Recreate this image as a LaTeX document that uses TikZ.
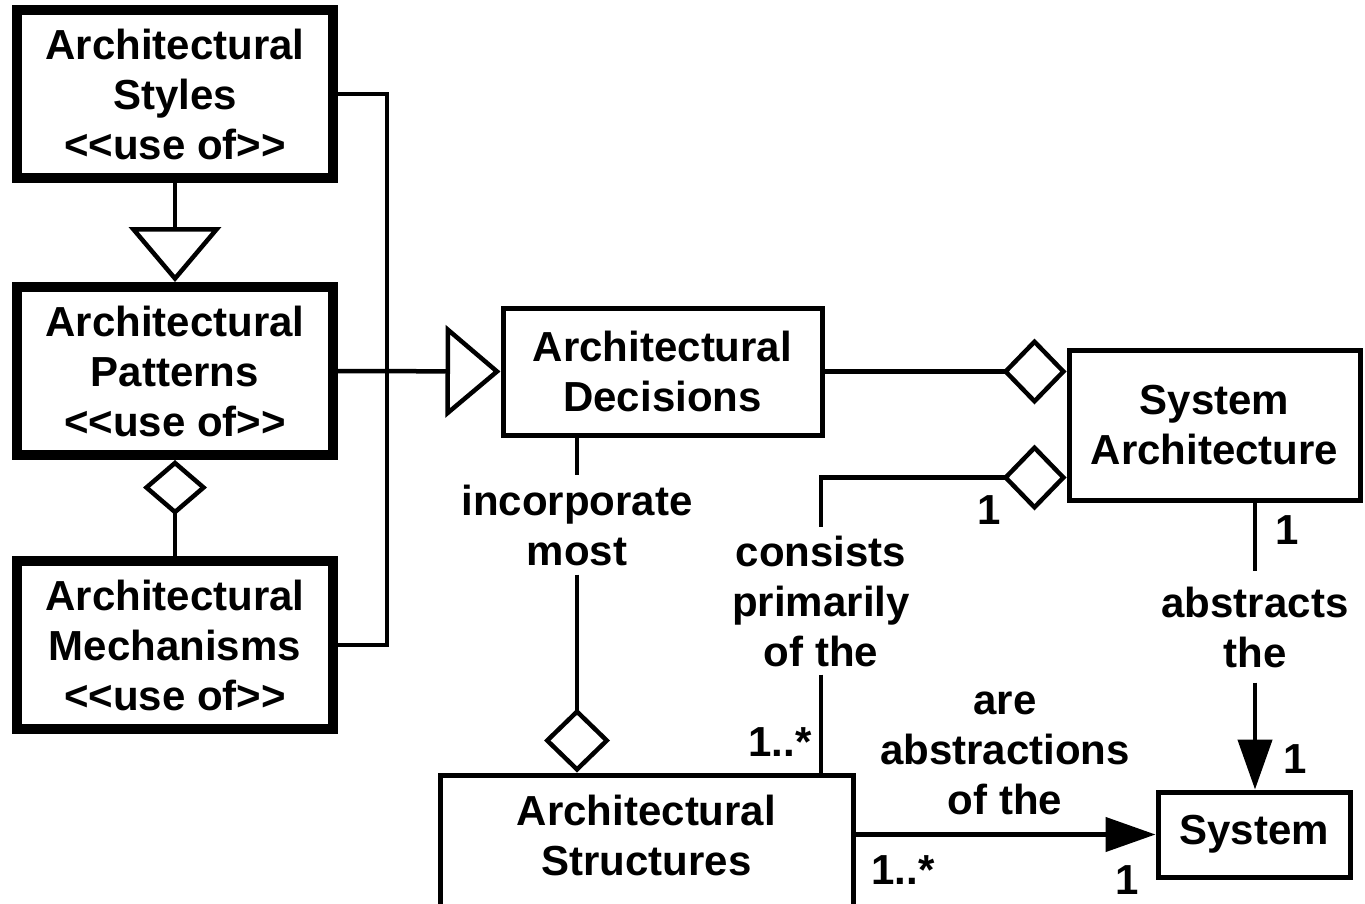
\documentclass[tikz,border=0pt]{standalone}
\usepackage{fontspec}
\setmainfont{Liberation Sans}
\usetikzlibrary{arrows.meta,calc}
% stereotype brackets kept as two separate characters
\newcommand{\stereo}[1]{<\kern0pt<#1>\kern0pt>}

\begin{document}
\begin{tikzpicture}[x=1pt,y=-1pt,
  every node/.style={font=\fontsize{42pt}{50pt}\selectfont\bfseries},
  heavybox/.style={draw, line width=10pt, minimum width=316pt, minimum height=168pt,
                   align=center, inner sep=0pt},
  box/.style={draw, line width=5pt, align=center, inner sep=0pt},
  boxtext/.style={align=center, inner sep=0pt},
  lbl/.style={align=center, inner xsep=2pt},
  mult/.style={inner sep=0pt},
  link/.style={line width=4.5pt},
  gen/.style={-{Triangle[open,length=55pt,width=92pt]}},
  aggstart/.style={{Diamond[open,length=55pt,width=64pt]}-},
  sysagg/.style={{Diamond[open,length=64pt,width=66pt]}-},
  aggend/.style={-{Diamond[open,length=64pt,width=66pt]}},
  nav/.style={-{Triangle[length=50pt,width=34pt]}}]

\useasboundingbox (0,0) rectangle (1365,903);

% classes on the left
\node[heavybox] (styles)     at (175,94)  {Architectural\\Styles\\\stereo{use of}};
\node[heavybox] (patterns)   at (175,371) {Architectural\\Patterns\\\stereo{use of}};
\node[heavybox] (mechanisms) at (175,645) {Architectural\\Mechanisms\\\stereo{use of}};

% central and right classes
\node[box, minimum width=319pt, minimum height=127pt] (decisions) at (662.5,371.5)
  {Architectural\\Decisions};
\node[box, minimum width=291pt, minimum height=150pt] (sysarch) at (1214.5,425)
  {System\\Architecture};
\node[box, minimum width=192pt, minimum height=85pt] (system) at (1254,834.5) {System};
\node[box, minimum width=413pt, minimum height=136pt] (structures) at (646.5,843) {};
\node[boxtext] (structurestext) at (646.5,835) {Architectural\\Structures};

% association labels
\node[lbl, inner ysep=9pt]  (incorp)    at (577,525)  {incorporate\\most};
\node[lbl, inner ysep=8pt]  (consists)  at (821,601)  {consists\\primarily\\of the};
\node[lbl, inner ysep=15pt] (abstracts) at (1255,627) {abstracts\\the};
\node[lbl] (areabs) at (1005,753) {are\\abstractions\\of the};

% multiplicities
\node[mult] (m1)  at (989,510)  {1};
\node[mult] (m2)  at (1287,530) {1};
\node[mult] (m3)  at (1295,759) {1};
\node[mult] (m4)  at (1127,880) {1};
\node[mult] (ms1) at (780,742)  {1..*};
\node[mult] (ms2) at (903,870)  {1..*};

% bus joining the three left classes
\coordinate (bus) at (387,0);
\draw[link] (styles.east) -- (styles.east -| bus) -- (mechanisms.east -| bus)
            -- (mechanisms.east);

% generalisations
\draw[link, gen] (styles) -- (patterns);
\draw[link, gen] (patterns.east) -- (decisions.west);

% aggregation between patterns and mechanisms
\draw[link, aggstart] (patterns) -- (mechanisms);

% decisions are part of the system architecture
\draw[link, aggend] (decisions.east) -- (decisions.east -| sysarch.west);

% decisions incorporate most structures
\draw[link] (decisions.south -| incorp) -- (incorp.north);
\draw[link, aggend] (incorp.south) -- (structures.north -| incorp);

% system architecture consists of the structures
\draw[link, sysagg] ($(sysarch.south west)+(0,-25)$) -| (consists.north);
\draw[link] (consists.south) -- (consists.south |- structures.north);

% system architecture abstracts the system
\draw[link] (sysarch.south -| abstracts) -- (abstracts.north);
\draw[link, nav] (abstracts.south) -- (system.north -| abstracts);

% structures are abstractions of the system
\draw[link, nav] (structures.east |- system.west) -- (system.west);
\end{tikzpicture}
\end{document}
